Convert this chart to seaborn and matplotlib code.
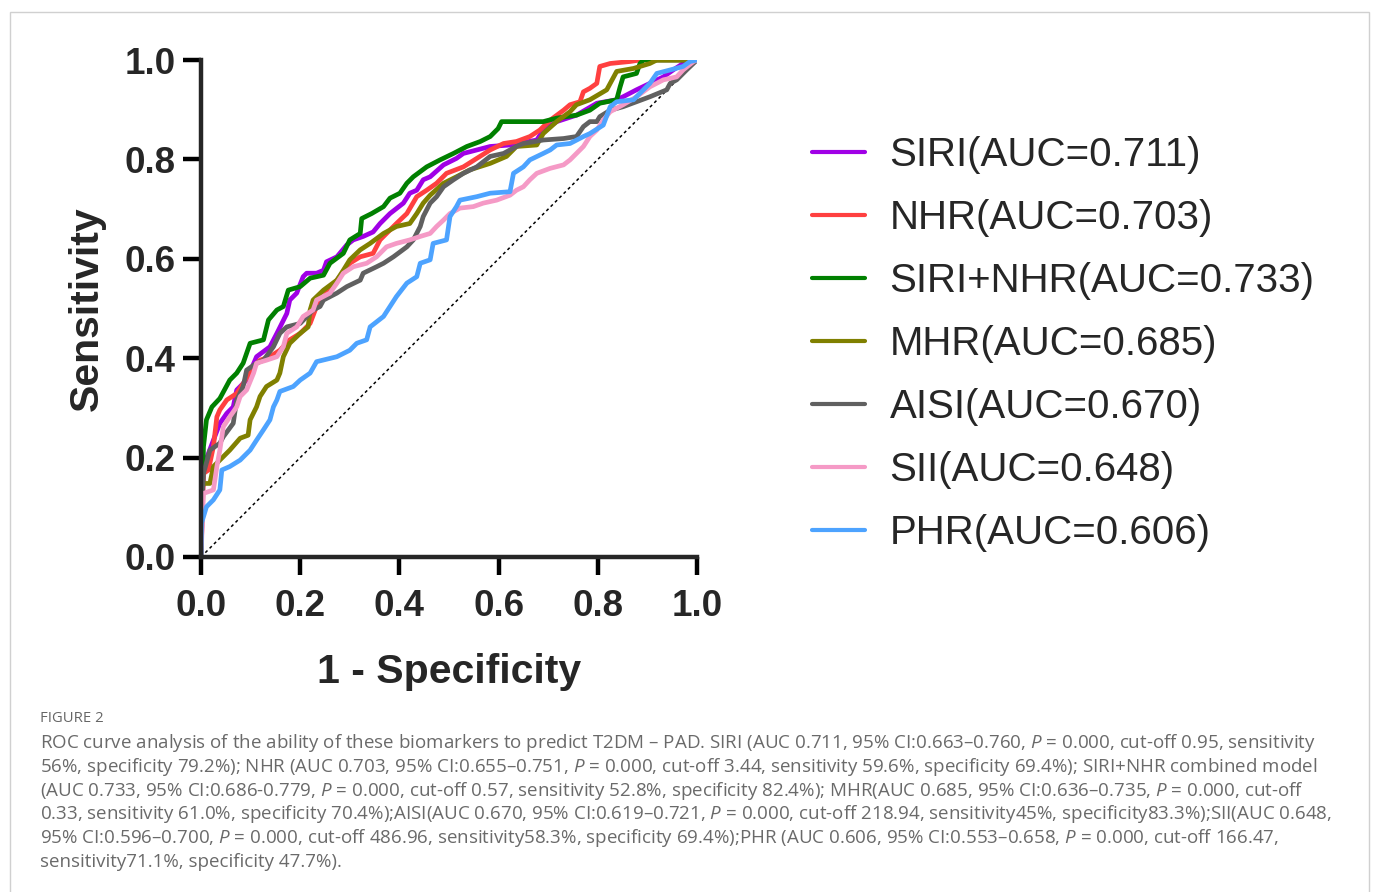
import numpy as np
import pandas as pd
import seaborn as sns
import matplotlib
matplotlib.use("Agg")
from matplotlib import pyplot as plt
from matplotlib.patches import Rectangle

# ---- dados (1 - especificidade, sensibilidade) ----
siri_x = [0, 0.005, 0.025, 0.038, 0.052, 0.065, 0.072, 0.092, 0.112, 0.139, 0.153, 0.173, 0.179, 0.193,
          0.206, 0.213, 0.233, 0.247, 0.253, 0.274, 0.294, 0.307, 0.327, 0.347, 0.361, 0.381, 0.408, 0.421,
          0.435, 0.448, 0.462, 0.489, 0.515, 0.529, 0.556, 0.583, 0.623, 0.677, 0.690, 0.717, 0.757, 0.798,
          0.838, 0.851, 0.878, 0.905, 0.932, 0.952, 0.972, 1.0]
siri_y = [0, 0.182, 0.235, 0.269, 0.289, 0.302, 0.336, 0.356, 0.403, 0.423, 0.450, 0.490, 0.517, 0.531,
          0.564, 0.571, 0.571, 0.577, 0.594, 0.604, 0.628, 0.638, 0.645, 0.654, 0.671, 0.691, 0.712, 0.732,
          0.738, 0.759, 0.765, 0.789, 0.802, 0.812, 0.819, 0.826, 0.829, 0.839, 0.859, 0.876, 0.889, 0.913,
          0.920, 0.926, 0.940, 0.953, 0.966, 0.980, 0.993, 1.0]

nhr_x = [0, 0.005, 0.015, 0.025, 0.032, 0.038, 0.052, 0.072, 0.085, 0.106, 0.119, 0.139, 0.159, 0.179,
         0.200, 0.220, 0.233, 0.253, 0.274, 0.300, 0.321, 0.347, 0.361, 0.394, 0.415, 0.435, 0.455, 0.475,
         0.495, 0.529, 0.556, 0.583, 0.610, 0.636, 0.663, 0.683, 0.704, 0.731, 0.744, 0.764, 0.771, 0.784,
         0.798, 0.804, 0.825, 0.865, 0.885, 1.0]
nhr_y = [0, 0.168, 0.175, 0.222, 0.282, 0.296, 0.316, 0.329, 0.349, 0.383, 0.396, 0.403, 0.416, 0.437,
         0.450, 0.470, 0.504, 0.531, 0.557, 0.591, 0.604, 0.611, 0.638, 0.671, 0.691, 0.725, 0.738, 0.752,
         0.772, 0.785, 0.802, 0.819, 0.832, 0.836, 0.846, 0.859, 0.879, 0.899, 0.910, 0.916, 0.936, 0.943,
         0.953, 0.987, 0.993, 0.997, 1.0, 1.0]

comb_x = [0, 0.005, 0.011, 0.022, 0.038, 0.058, 0.072, 0.085, 0.099, 0.126, 0.136, 0.153, 0.166, 0.176,
          0.200, 0.220, 0.247, 0.260, 0.287, 0.300, 0.321, 0.324, 0.344, 0.368, 0.381, 0.401, 0.415, 0.428,
          0.455, 0.482, 0.509, 0.536, 0.563, 0.583, 0.599, 0.606, 0.690, 0.717, 0.757, 0.784, 0.804, 0.838,
          0.845, 0.851, 0.878, 0.885, 0.892, 1.0]
comb_y = [0, 0.222, 0.276, 0.302, 0.319, 0.356, 0.370, 0.390, 0.430, 0.437, 0.477, 0.497, 0.504, 0.537,
          0.544, 0.561, 0.567, 0.591, 0.611, 0.638, 0.651, 0.681, 0.691, 0.705, 0.722, 0.732, 0.752, 0.765,
          0.785, 0.799, 0.812, 0.826, 0.836, 0.846, 0.862, 0.876, 0.876, 0.883, 0.889, 0.899, 0.913, 0.920,
          0.946, 0.966, 0.973, 0.993, 1.0, 1.0]

mhr_x = [0, 0, 0.005, 0.018, 0.025, 0.045, 0.058, 0.079, 0.095, 0.099, 0.112, 0.119, 0.132, 0.153,
         0.159, 0.166, 0.179, 0.200, 0.216, 0.220, 0.226, 0.247, 0.274, 0.287, 0.300, 0.321, 0.341, 0.368,
         0.394, 0.421, 0.435, 0.448, 0.462, 0.489, 0.515, 0.542, 0.583, 0.616, 0.636, 0.677, 0.690, 0.717,
         0.744, 0.757, 0.784, 0.818, 0.838, 0.872, 0.905, 0.919, 1.0]
mhr_y = [0, 0.128, 0.148, 0.148, 0.182, 0.202, 0.215, 0.239, 0.245, 0.276, 0.302, 0.323, 0.343, 0.356,
         0.370, 0.403, 0.430, 0.450, 0.463, 0.497, 0.517, 0.537, 0.557, 0.577, 0.598, 0.618, 0.631, 0.651,
         0.665, 0.671, 0.691, 0.712, 0.728, 0.752, 0.765, 0.779, 0.792, 0.806, 0.826, 0.829, 0.852, 0.876,
         0.896, 0.910, 0.920, 0.940, 0.977, 0.983, 0.993, 1.0, 1.0]

aisi_x = [0, 0.001, 0.005, 0.018, 0.038, 0.045, 0.065, 0.072, 0.085, 0.092, 0.112, 0.126, 0.146, 0.159,
          0.173, 0.200, 0.226, 0.240, 0.247, 0.274, 0.294, 0.321, 0.327, 0.354, 0.368, 0.388, 0.415, 0.428,
          0.442, 0.448, 0.462, 0.475, 0.489, 0.509, 0.529, 0.556, 0.583, 0.610, 0.636, 0.650, 0.690, 0.731,
          0.757, 0.771, 0.784, 0.798, 0.804, 0.825, 0.851, 0.878, 0.905, 0.939, 0.946, 0.959, 0.979, 1.0]
aisi_y = [0, 0.101, 0.168, 0.215, 0.229, 0.242, 0.269, 0.316, 0.343, 0.376, 0.390, 0.396, 0.423, 0.450,
          0.463, 0.470, 0.497, 0.504, 0.517, 0.531, 0.544, 0.557, 0.571, 0.584, 0.591, 0.604, 0.624, 0.638,
          0.665, 0.685, 0.712, 0.725, 0.745, 0.759, 0.772, 0.785, 0.806, 0.812, 0.826, 0.832, 0.839, 0.842,
          0.846, 0.866, 0.876, 0.876, 0.886, 0.899, 0.906, 0.916, 0.926, 0.940, 0.953, 0.960, 0.980, 1.0]

sii_x = [0, 0.005, 0.025, 0.032, 0.038, 0.045, 0.058, 0.072, 0.079, 0.092, 0.106, 0.112, 0.132, 0.153,
         0.166, 0.173, 0.193, 0.206, 0.226, 0.233, 0.260, 0.274, 0.287, 0.307, 0.334, 0.354, 0.374, 0.394,
         0.421, 0.442, 0.462, 0.475, 0.489, 0.502, 0.522, 0.549, 0.569, 0.596, 0.623, 0.636, 0.650, 0.663,
         0.677, 0.704, 0.731, 0.744, 0.757, 0.771, 0.784, 0.798, 0.811, 0.825, 0.851, 0.878, 0.905, 0.932,
         0.959, 0.972, 0.993, 1.0]
sii_y = [0, 0.128, 0.135, 0.182, 0.215, 0.262, 0.282, 0.302, 0.323, 0.336, 0.370, 0.390, 0.396, 0.403,
         0.423, 0.450, 0.463, 0.484, 0.497, 0.517, 0.531, 0.551, 0.571, 0.584, 0.591, 0.604, 0.624, 0.631,
         0.638, 0.645, 0.651, 0.665, 0.678, 0.691, 0.702, 0.705, 0.712, 0.718, 0.728, 0.738, 0.745, 0.759,
         0.772, 0.782, 0.789, 0.799, 0.812, 0.826, 0.846, 0.859, 0.879, 0.896, 0.910, 0.926, 0.946, 0.960,
         0.966, 0.980, 0.997, 1.0]

phr_x = [0, 0.001, 0.011, 0.025, 0.038, 0.042, 0.058, 0.079, 0.099, 0.112, 0.126, 0.139, 0.146, 0.153,
         0.159, 0.186, 0.200, 0.220, 0.233, 0.274, 0.300, 0.314, 0.334, 0.341, 0.368, 0.381, 0.394, 0.415,
         0.435, 0.442, 0.462, 0.468, 0.495, 0.502, 0.515, 0.522, 0.556, 0.583, 0.623, 0.630, 0.650, 0.663,
         0.690, 0.704, 0.717, 0.744, 0.771, 0.784, 0.811, 0.825, 0.838, 0.872, 0.885, 0.905, 0.919, 0.946,
         0.972, 0.986, 1.0]
phr_y = [0, 0.068, 0.101, 0.115, 0.135, 0.175, 0.182, 0.195, 0.215, 0.235, 0.256, 0.276, 0.302, 0.316,
         0.333, 0.343, 0.356, 0.370, 0.393, 0.403, 0.416, 0.430, 0.437, 0.463, 0.484, 0.504, 0.524, 0.551,
         0.564, 0.591, 0.598, 0.631, 0.638, 0.685, 0.705, 0.718, 0.725, 0.732, 0.735, 0.772, 0.785, 0.799,
         0.812, 0.819, 0.829, 0.832, 0.846, 0.852, 0.869, 0.906, 0.916, 0.920, 0.933, 0.953, 0.973, 0.980,
         0.987, 0.997, 1.0]

rotulos = ["SIRI(AUC=0.711)", "NHR(AUC=0.703)", "SIRI+NHR(AUC=0.733)", "MHR(AUC=0.685)",
           "AISI(AUC=0.670)", "SII(AUC=0.648)", "PHR(AUC=0.606)"]
cores = ["#a000e6", "#ff4040", "#008000", "#808000", "#606060", "#f59ac6", "#4da3ff"]
curvas = [(siri_x, siri_y), (nhr_x, nhr_y), (comb_x, comb_y), (mhr_x, mhr_y),
          (aisi_x, aisi_y), (sii_x, sii_y), (phr_x, phr_y)]

legenda_fig = [
    "ROC curve analysis of the ability of these biomarkers to predict T2DM \u2013 PAD. SIRI (AUC 0.711, 95% CI:0.663\u20130.760, $P$ = 0.000, cut-off 0.95, sensitivity",
    "56%, specificity 79.2%); NHR (AUC 0.703, 95% CI:0.655\u20130.751, $P$ = 0.000, cut-off 3.44, sensitivity 59.6%, specificity 69.4%); SIRI+NHR combined model",
    "(AUC 0.733, 95% CI:0.686-0.779, $P$ = 0.000, cut-off 0.57, sensitivity 52.8%, specificity 82.4%); MHR(AUC 0.685, 95% CI:0.636\u20130.735, $P$ = 0.000, cut-off",
    "0.33, sensitivity 61.0%, specificity 70.4%);AISI(AUC 0.670, 95% CI:0.619\u20130.721, $P$ = 0.000, cut-off 218.94, sensitivity45%, specificity83.3%);SII(AUC 0.648,",
    "95% CI:0.596\u20130.700, $P$ = 0.000, cut-off 486.96, sensitivity58.3%, specificity 69.4%);PHR (AUC 0.606, 95% CI:0.553\u20130.658, $P$ = 0.000, cut-off 166.47,",
    "sensitivity71.1%, specificity 47.7%).",
]

# ---- estilo ----
sns.set_style("ticks")
plt.rcParams['font.family'] = ['Liberation Sans', 'DejaVu Sans']
plt.rcParams['mathtext.fontset'] = 'custom'
plt.rcParams['mathtext.rm'] = 'Open Sans'
plt.rcParams['mathtext.it'] = 'Open Sans:italic'

fig = plt.figure(figsize=(13.73, 8.92), dpi=100)
ax = fig.add_axes([201 / 1373, 1 - 557 / 892, 496 / 1373, 497 / 892])

for (xs, ys), cor, rot in zip(curvas, cores, rotulos):
    df = pd.DataFrame({"x": xs, "y": ys})
    sns.lineplot(data=df, x="x", y="y", sort=False, estimator=None, color=cor,
                 lw=3.4, label=rot, ax=ax)

# diagonal de referencia
ax.plot([0, 1], [0, 1], color="black", lw=1.1, ls=(0, (2, 2)), zorder=1)

ticks = np.arange(0, 1.01, 0.2)
ax.set_xlim(0, 1)
ax.set_ylim(0, 1)
ax.set_xticks(ticks)
ax.set_yticks(ticks)
ax.set_xticklabels([f"{v:.1f}" for v in ticks])
ax.set_yticklabels([f"{v:.1f}" for v in ticks])
sns.despine(ax=ax)
for s in ["left", "bottom"]:
    ax.spines[s].set_linewidth(3.2)
    ax.spines[s].set_capstyle("projecting")
ax.tick_params(axis="both", width=3.2, length=13, labelsize=26.5, color="black")
ax.tick_params(axis="x", pad=10)
ax.tick_params(axis="y", pad=5)
for t in ax.get_xticklabels() + ax.get_yticklabels():
    t.set_fontweight("bold")
ax.set_xlabel("1 - Specificity", fontsize=29.5, fontweight="bold", labelpad=21)
ax.set_ylabel("Sensitivity", fontsize=29.5, fontweight="bold", labelpad=14)

leg = ax.legend(loc="upper left", bbox_to_anchor=(792 / 1373, 1 - 116 / 892),
                bbox_transform=fig.transFigure, frameon=False, fontsize=29,
                handlelength=1.32, handletextpad=0.6, labelspacing=0.62, borderpad=0)
for h in leg.get_lines():
    h.set_linewidth(3)

# moldura e legenda da figura
fig.patches.append(Rectangle((10 / 1373, -0.05), 1359 / 1373, 1 - 12 / 892 + 0.05,
                             transform=fig.transFigure, fill=False, edgecolor="#d0d0d0", lw=1))
fig.text(40 / 1373, 1 - 718 / 892, "FIGURE 2", fontsize=10.7, color="#666666",
         family="Open Sans", va="center")
for i, linha in enumerate(legenda_fig):
    fig.text(40 / 1373, 1 - (743 + 23.8 * i) / 892, linha, fontsize=13.5, color="#6a6a6a",
             family="Open Sans", va="center")

fig.savefig("out.png", dpi=100)
